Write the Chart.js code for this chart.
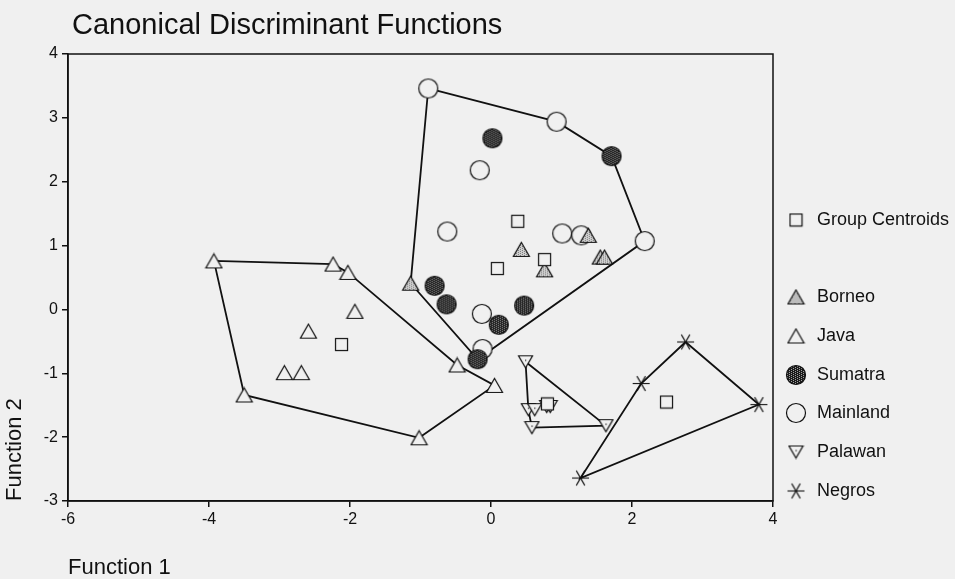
<!DOCTYPE html>
<html>
<head>
<meta charset="utf-8">
<script src="https://cdn.jsdelivr.net/npm/chart.js@4/dist/chart.umd.min.js"></script>
<style>
    html, body { margin: 0; padding: 0; background: #f0f0f0; }
    canvas { display: block; }
</style>
</head>
<body>
<canvas id="cdf" width="955" height="579"></canvas>
<script>
// ============================================
// Canonical Discriminant Functions — scatter
// ============================================

const BG = '#f0f0f0';
const FONT = "'Liberation Sans', Arial, sans-serif";

// Function 1 / Function 2 scores per group
const javaX = [-3.93, -2.24, -2.03, -1.93, -2.59, -2.93, -2.69, -3.50, -0.48, 0.05, -1.02];
const javaY = [0.76, 0.71, 0.58, -0.03, -0.34, -0.99, -0.99, -1.34, -0.87, -1.19, -2.01];

const borneoX = [-1.14, 0.43, 1.38, 1.55, 1.61, 0.76];
const borneoY = [0.41, 0.94, 1.16, 0.82, 0.82, 0.62];

const sumatraX = [0.02, 1.71, -0.80, -0.63, 0.47, 0.11, -0.19];
const sumatraY = [2.68, 2.40, 0.37, 0.08, 0.06, -0.24, -0.78];

const mainlandX = [-0.89, 0.93, -0.16, -0.62, 1.01, 1.28, 2.18, -0.13, -0.12];
const mainlandY = [3.46, 2.94, 2.18, 1.22, 1.19, 1.16, 1.07, -0.07, -0.62];

const palawanX = [0.49, 0.53, 0.62, 0.79, 0.84, 0.58, 1.63];
const palawanY = [-0.82, -1.57, -1.57, -1.52, -1.52, -1.85, -1.82];

const negrosX = [2.76, 2.13, 3.80, 1.27];
const negrosY = [-0.51, -1.16, -1.49, -2.64];

const centroidX = [-2.12, 0.38, 0.09, 0.76, 0.80, 2.49];
const centroidY = [-0.55, 1.38, 0.64, 0.78, -1.48, -1.45];

// outline polygons drawn round the groups
const hullJavaX = [-3.93, -2.24, -2.03, -0.48, 0.05, -1.02, -3.50, -3.93];
const hullJavaY = [0.76, 0.71, 0.58, -0.87, -1.19, -2.01, -1.34, 0.76];
const hullMainX = [-0.89, 0.93, 1.71, 2.18, -0.19, -1.14, -0.89];
const hullMainY = [3.46, 2.94, 2.40, 1.07, -0.78, 0.41, 3.46];
const hullPalawanX = [0.49, 1.63, 0.58, 0.53, 0.49];
const hullPalawanY = [-0.82, -1.82, -1.85, -1.57, -0.82];
const hullNegrosX = [2.76, 3.80, 1.27, 2.13, 2.76];
const hullNegrosY = [-0.51, -1.49, -2.64, -1.16, -0.51];

// axis ticks
const xTicks = [-6, -4, -2, 0, 2, 4];
const yTicks = [4, 3, 2, 1, 0, -1, -2, -3];

function pts(xs, ys) {
    return xs.map((x, i) => ({ x, y: ys[i] }));
}

// --------------------------------------------
// Marker images
// --------------------------------------------
function canvasOf(w, h) {
    const c = document.createElement('canvas');
    c.width = w;
    c.height = h;
    return c;
}

function stipple(ctx, w, h, base, dot, step) {
    ctx.fillStyle = base;
    ctx.fillRect(0, 0, w, h);
    ctx.fillStyle = dot;
    for (let i = 0; i < w; i += step) {
        for (let j = (i / step) % 2; j < h; j += step) {
            ctx.fillRect(i, j, 1, 1);
        }
    }
}

function squareMarker() {
    const c = canvasOf(15, 15);
    const ctx = c.getContext('2d');
    ctx.fillStyle = BG;
    ctx.fillRect(1.5, 1.5, 12, 12);
    ctx.strokeStyle = '#111';
    ctx.lineWidth = 1.2;
    ctx.strokeRect(1.5, 1.5, 12, 12);
    return c;
}

function triangleMarker(shaded) {
    const c = canvasOf(19, 17);
    const ctx = c.getContext('2d');
    ctx.beginPath();
    ctx.moveTo(9.5, 1.5);
    ctx.lineTo(17.5, 15.5);
    ctx.lineTo(1.5, 15.5);
    ctx.closePath();
    ctx.save();
    ctx.clip();
    if (shaded) stipple(ctx, 19, 17, '#d4d4d4', '#707070', 2);
    else { ctx.fillStyle = BG; ctx.fillRect(0, 0, 19, 17); }
    ctx.restore();
    ctx.strokeStyle = '#111';
    ctx.lineWidth = 1.2;
    ctx.stroke();
    return c;
}

function circleMarker(filled) {
    const c = canvasOf(22, 22);
    const ctx = c.getContext('2d');
    ctx.beginPath();
    ctx.arc(11, 11, 9.5, 0, Math.PI * 2);
    ctx.save();
    ctx.clip();
    if (filled) stipple(ctx, 22, 22, '#1c1c1c', '#a0a0a0', 2);
    else { ctx.fillStyle = BG; ctx.fillRect(0, 0, 22, 22); }
    ctx.restore();
    ctx.strokeStyle = '#111';
    ctx.lineWidth = 1.2;
    ctx.stroke();
    return c;
}

function invTriangleMarker() {
    const c = canvasOf(17, 15);
    const ctx = c.getContext('2d');
    ctx.beginPath();
    ctx.moveTo(1.5, 1.5);
    ctx.lineTo(15.5, 1.5);
    ctx.lineTo(8.5, 13.5);
    ctx.closePath();
    ctx.fillStyle = BG;
    ctx.fill();
    ctx.strokeStyle = '#111';
    ctx.lineWidth = 1.2;
    ctx.stroke();
    ctx.fillStyle = '#111';
    ctx.fillRect(8, 5.5, 1.2, 1.2);
    return c;
}

function starMarker() {
    const c = canvasOf(19, 19);
    const ctx = c.getContext('2d');
    ctx.strokeStyle = '#111';
    ctx.lineWidth = 1.1;
    const r = 8.5;
    [0, 60, 120].forEach(a => {
        const t = a * Math.PI / 180;
        ctx.beginPath();
        ctx.moveTo(9.5 - r * Math.cos(t), 9.5 - r * Math.sin(t));
        ctx.lineTo(9.5 + r * Math.cos(t), 9.5 + r * Math.sin(t));
        ctx.stroke();
    });
    return c;
}

const MARK = {
    centroid: squareMarker(),
    borneo: triangleMarker(true),
    java: triangleMarker(false),
    sumatra: circleMarker(true),
    mainland: circleMarker(false),
    palawan: invTriangleMarker(),
    negros: starMarker(),
};

// --------------------------------------------
// Datasets
// --------------------------------------------
function pointSet(label, xs, ys, marker) {
    return {
        label,
        data: pts(xs, ys),
        pointStyle: marker,
        pointRadius: 8,
        pointHoverRadius: 8,
        order: 1,
    };
}

function hullSet(xs, ys) {
    return {
        label: '',
        data: pts(xs, ys),
        showLine: true,
        borderColor: '#111',
        borderWidth: 1.8,
        pointRadius: 0,
        fill: false,
        order: 10,
    };
}

const datasets = [
    pointSet('Group Centroids', centroidX, centroidY, MARK.centroid),
    pointSet('Borneo', borneoX, borneoY, MARK.borneo),
    pointSet('Java', javaX, javaY, MARK.java),
    pointSet('Sumatra', sumatraX, sumatraY, MARK.sumatra),
    pointSet('Mainland', mainlandX, mainlandY, MARK.mainland),
    pointSet('Palawan', palawanX, palawanY, MARK.palawan),
    pointSet('Negros', negrosX, negrosY, MARK.negros),
    hullSet(hullJavaX, hullJavaY),
    hullSet(hullMainX, hullMainY),
    hullSet(hullPalawanX, hullPalawanY),
    hullSet(hullNegrosX, hullNegrosY),
];

// legend rows: label, marker, y position
const legendRows = [
    ['Group Centroids', MARK.centroid, 220],
    ['Borneo', MARK.borneo, 297],
    ['Java', MARK.java, 336],
    ['Sumatra', MARK.sumatra, 375],
    ['Mainland', MARK.mainland, 413],
    ['Palawan', MARK.palawan, 452],
    ['Negros', MARK.negros, 491],
];

// --------------------------------------------
// Plugins: background, frame, title, legend
// --------------------------------------------
const decor = {
    id: 'decor',
    beforeDraw(chart) {
        const ctx = chart.ctx;
        ctx.save();
        ctx.fillStyle = BG;
        ctx.fillRect(0, 0, chart.width, chart.height);
        ctx.restore();
    },
    afterDraw(chart) {
        const ctx = chart.ctx;
        const a = chart.chartArea;
        ctx.save();
        // frame
        ctx.strokeStyle = '#111';
        ctx.lineWidth = 1.5;
        ctx.strokeRect(a.left, a.top, a.right - a.left, a.bottom - a.top);

        // title
        ctx.fillStyle = '#111';
        ctx.font = `29px ${FONT}`;
        ctx.textBaseline = 'alphabetic';
        ctx.textAlign = 'left';
        ctx.fillText('Canonical Discriminant Functions', 72, 34);

        // legend
        ctx.font = `18px ${FONT}`;
        ctx.textBaseline = 'middle';
        legendRows.forEach(([label, img, y]) => {
            ctx.drawImage(img, 796 - img.width / 2, y - img.height / 2);
            ctx.fillText(label, 817, y);
        });
        ctx.restore();
    },
};

const tickFont = { family: FONT, size: 16 };

new Chart(document.getElementById('cdf'), {
    type: 'scatter',
    data: { datasets },
    options: {
        responsive: false,
        animation: false,
        events: [],
        layout: { padding: { top: 54, right: 182, left: 0, bottom: 0 } },
        plugins: {
            legend: { display: false },
            tooltip: { enabled: false },
        },
        scales: {
            x: {
                type: 'linear',
                min: -6,
                max: 4,
                afterBuildTicks: s => { s.ticks = xTicks.map(v => ({ value: v })); },
                ticks: { color: '#111', font: tickFont, padding: 3, maxRotation: 0 },
                grid: { drawOnChartArea: false, drawTicks: true, tickLength: 6, color: '#111', lineWidth: 1.5 },
                border: { display: true, color: '#111', width: 1.5 },
                title: {
                    display: true,
                    text: 'Function 1',
                    align: 'start',
                    color: '#111',
                    font: { family: FONT, size: 22, lineHeight: 1 },
                    padding: { top: 0, bottom: 0 },
                },
                afterFit: s => { s.height = 78; },
            },
            y: {
                type: 'linear',
                min: -3,
                max: 4,
                afterBuildTicks: s => { s.ticks = yTicks.map(v => ({ value: v })); },
                ticks: { color: '#111', font: tickFont, padding: 4 },
                grid: { drawOnChartArea: false, drawTicks: true, tickLength: 6, color: '#111', lineWidth: 1.5 },
                border: { display: true, color: '#111', width: 1.5 },
                title: {
                    display: true,
                    text: 'Function 2',
                    align: 'start',
                    color: '#111',
                    font: { family: FONT, size: 22, lineHeight: 1 },
                    padding: { top: 4, bottom: 0 },
                },
                afterFit: s => { s.width = 68; },
            },
        },
    },
    plugins: [decor],
});
</script>
</body>
</html>
